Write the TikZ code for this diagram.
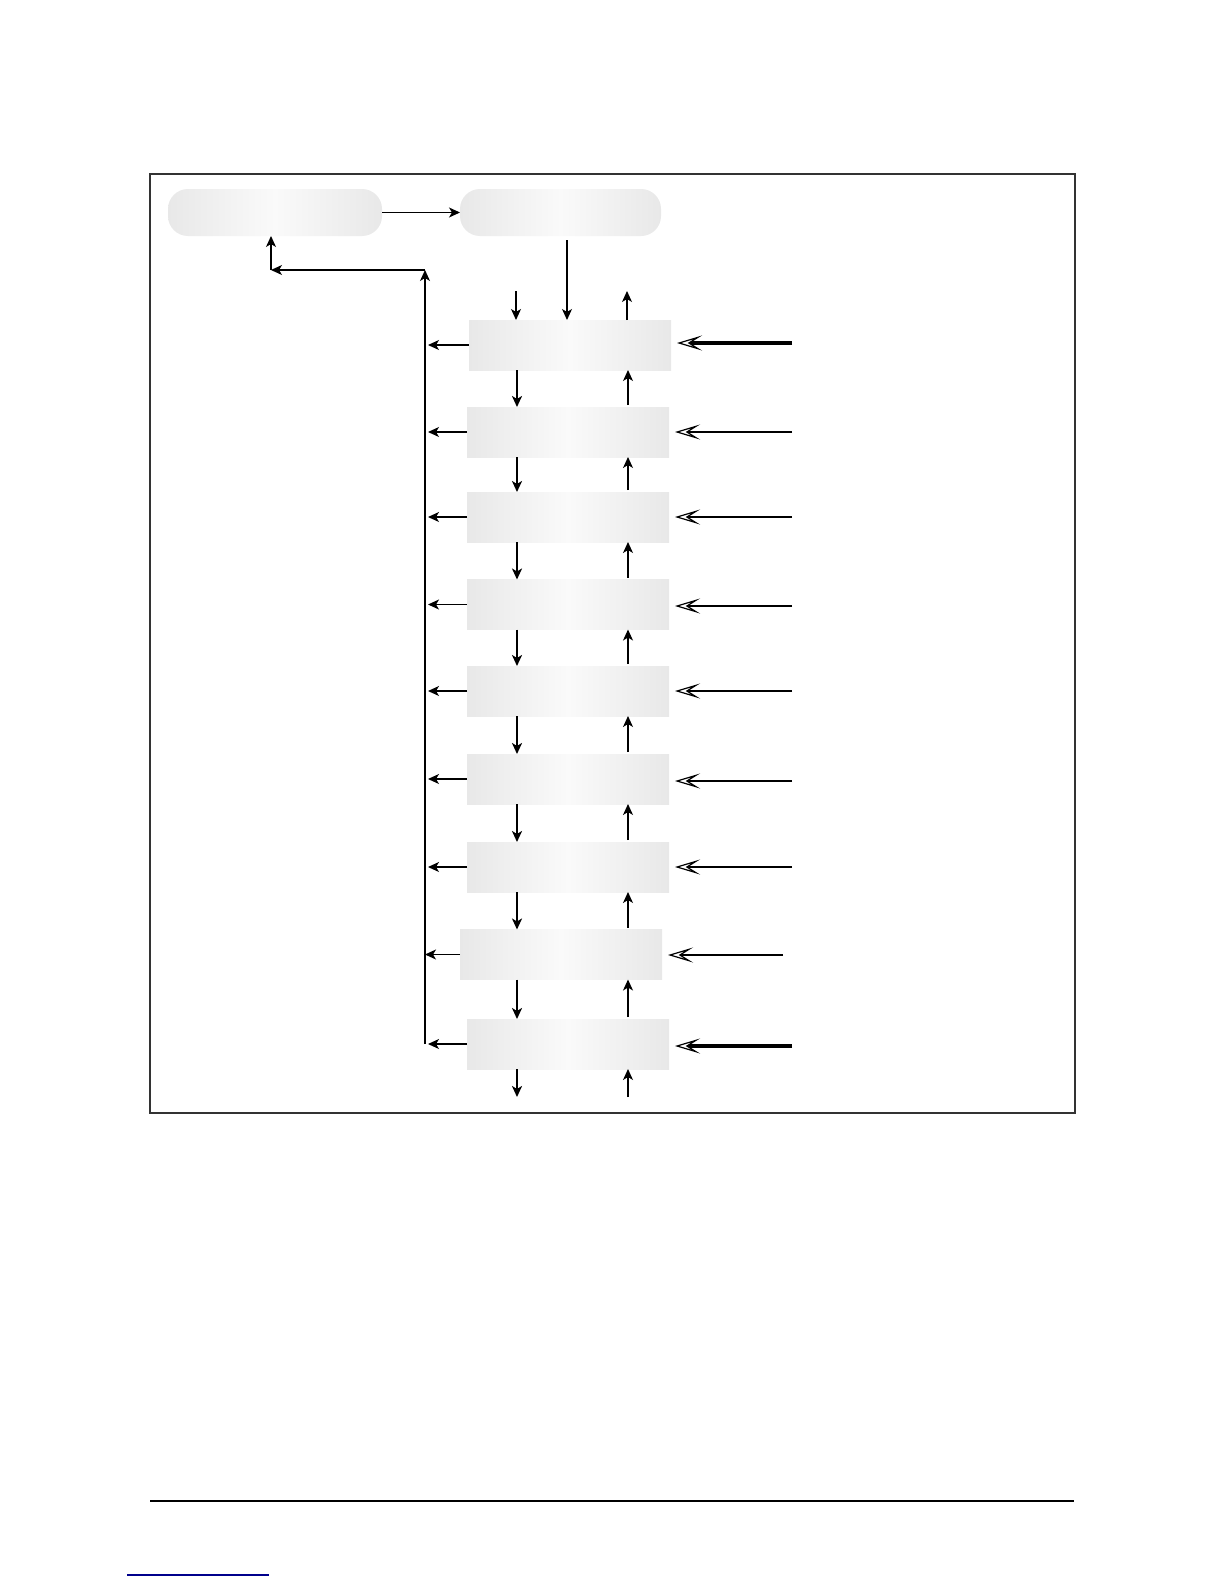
\documentclass[tikz,border=0pt]{standalone}
\usetikzlibrary{arrows.meta}
\begin{document}
\begin{tikzpicture}[x=1pt,y=-1pt,
  panel/.style={shade, left color=black!9, right color=black!9, middle color=black!2,
    draw=none, outer sep=0pt, inner sep=0pt},
  pill/.style={panel, rounded corners=20pt, minimum width=#1, minimum height=47pt},
  stage/.style={panel, minimum width=202pt, minimum height=50pt},
  thin/.style={line width=1.2pt, -{Stealth[length=11pt,width=10pt,inset=3pt]}},
  thick/.style={line width=2.3pt, -{Stealth[length=11pt,width=10pt,inset=3pt]}},
  feed/.style={line width=#1, -{Stealth[open, length=25pt, width=15pt, inset=12pt, line width=1.2pt, fill=white]}, shorten >=6pt},
  feed/.default=2.5pt]
\useasboundingbox (0,0) rectangle (1224,1584);
\fill[white] (0,0) rectangle (1224,1584);
% frame
\draw[black!80, line width=1.6pt] (150,174) rectangle (1075,1113);
% top boxes
\node[pill=214pt] (A) at (275,212.5) {};
\node[pill=201pt] (B) at (560.5,212.5) {};
% stage boxes
\node[stage] (b1) at (570,345) {};
\node[stage] (b2) at (568,432) {};
\node[stage] (b3) at (568,517) {};
\node[stage] (b4) at (568,604.5) {};
\node[stage] (b5) at (568,691) {};
\node[stage] (b6) at (568,779) {};
\node[stage] (b7) at (568,867) {};
\node[stage] (b8) at (561,954.5) {};
\node[stage] (b9) at (568,1044) {};
% helper coordinates
\coordinate (dx) at (517,0);
\coordinate (ux) at (628,0);
\coordinate (busTop) at (425,270);
\coordinate (busBot) at (425,1044);
\coordinate (retEnd) at (271,270);
\coordinate (inTop) at (516,291);
\coordinate (outTop) at (627,291);
\coordinate (inBot) at (517,1097);
\coordinate (outBot) at (628,1097);
% A -> B
\draw[thin] (A.east) -- (B.west);
% B -> b1
\draw[thin, shorten <=4pt] (B.south -| 567,0) -- (b1.north -| 567,0);
\draw[thin] (inTop) -- (inTop |- b1.north);
\draw[thin] (outTop |- b1.north) -- (outTop);
% chain between stages
\foreach \u/\l in {b1/b2,b2/b3,b3/b4,b4/b5,b5/b6,b6/b7,b7/b8,b8/b9}{
  \draw[thick] (\u.south -| dx) -- (\l.north -| dx);
  \draw[thin, shorten <=2pt] (\l.north -| ux) -- (\u.south -| ux);
}
\draw[thick] (b9.south -| inBot) -- (inBot);
\draw[thin] (outBot) -- (b9.south -| outBot);
% outputs to bus
\foreach \n in {b1,b2,b3,b4,b5,b6,b7,b9}{
  \draw[thin, shorten >=3pt] (\n.west) -- (\n.west -| busTop);
}
\draw[thin] (b8.west) -- (b8.west -| busTop);
% return path
\draw[thin] (busBot) -- (busTop);
\draw[thin] (busTop) -- (retEnd);
\draw[thin] (retEnd) -- (A.south -| retEnd);
% right feeds
\coordinate (f1) at (792,343);
\coordinate (f2) at (792,432);
\coordinate (f3) at (792,517);
\coordinate (f4) at (792,606);
\coordinate (f5) at (792,691);
\coordinate (f6) at (792,781);
\coordinate (f7) at (792,867);
\coordinate (f8) at (783,955);
\coordinate (f9) at (792,1046);
\draw[feed=3.4pt] (f1) -- (b1.east |- f1);
\foreach \i in {2,3,4,5,6,7,8}{
  \draw[feed] (f\i) -- (b\i.east |- f\i);
}
\draw[feed=3.4pt] (f9) -- (b9.east |- f9);
% footer
\draw[black, line width=1.4pt] (150,1501) -- (1074,1501);
\draw[blue!55!black, line width=1.4pt] (127,1575) -- (269,1575);
\end{tikzpicture}
\end{document}
